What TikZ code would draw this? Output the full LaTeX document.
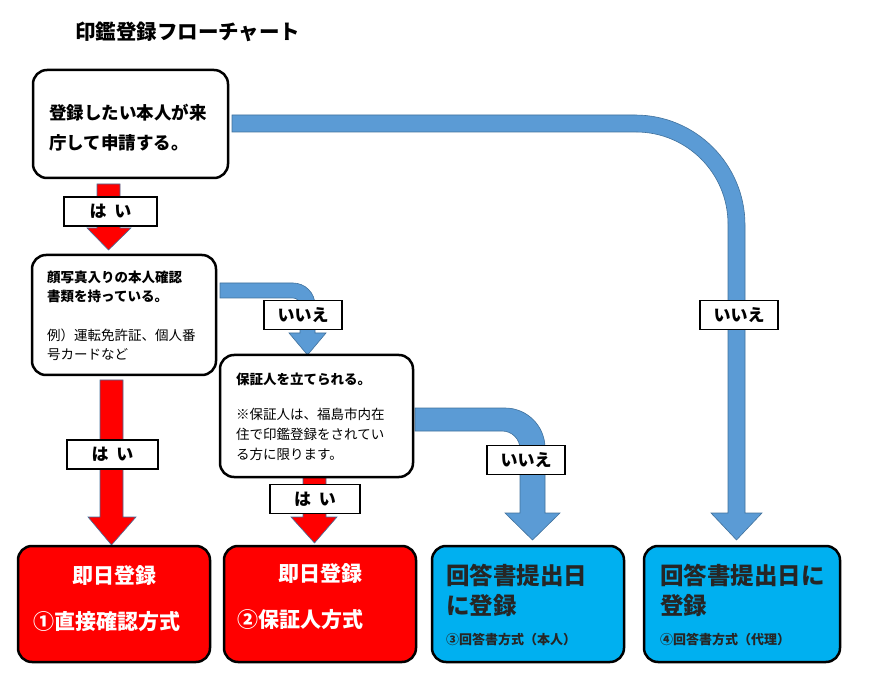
\documentclass[tikz,border=0pt]{standalone}
\usepackage{fontspec}
\setmainfont{Noto Sans CJK JP}
\definecolor{ab}{HTML}{5B9BD5}
\definecolor{abd}{HTML}{41719C}
\definecolor{cy}{HTML}{00B0F0}
\begin{document}
\begin{tikzpicture}[x=1pt,y=-1pt,
  box/.style={draw=black,line width=2.5pt,rounded corners=14pt,fill=white},
  rbox/.style={draw=black,line width=2.5pt,rounded corners=14pt,fill=red},
  cbox/.style={draw=black,line width=2.5pt,rounded corners=14pt,fill=cy},
  rarr/.style={fill=red,draw=abd,line width=0.6pt},
  barr/.style={fill=ab,draw=abd,line width=0.6pt},
  lab/.style={draw=black,line width=1.2pt,fill=white,font=\bfseries\fontsize{17}{17}\selectfont,inner sep=0pt,minimum height=29pt},
  t/.style={anchor=west,align=left,inner sep=0pt}]
\useasboundingbox (0,0) rectangle (870,684);
\node[t,font=\bfseries\fontsize{20.5}{20}\selectfont] (title) at (75,32) {印鑑登録フローチャート};
% arrows
\draw[rarr] (97,184) -- (120,184) -- (120,228) -- (131,228) -- (108.5,250) -- (87,228) -- (97,228) -- cycle;
\draw[rarr] (100,380) -- (123,380) -- (123,517) -- (136,517) -- (111.5,545) -- (88,517) -- (100,517) -- cycle;
\draw[rarr] (303,477) -- (326,477) -- (326,517) -- (337,517) -- (314.5,543) -- (291,517) -- (303,517) -- cycle;
\draw[barr] (220,283) [rounded corners=22pt] -- (315,283) [sharp corners] -- (315,333) -- (326,333) -- (307.5,355) -- (289,333) -- (300,333) [rounded corners=7pt] -- (300,298) [sharp corners] -- (220,298) -- cycle;
\draw[barr] (415,408) [rounded corners=40pt] -- (545,408) [sharp corners] -- (545,513) -- (560,513) -- (532.5,540) -- (505,513) -- (520,513) [rounded corners=18pt] -- (520,431) [sharp corners] -- (415,431) -- cycle;
\draw[barr] (232,115) [rounded corners=110pt] -- (745,115) [sharp corners] -- (745,513) -- (762,513) -- (736.5,540) -- (711,513) -- (728,513) [rounded corners=92pt] -- (728,132) [sharp corners] -- (232,132) -- cycle;
% labels
\node[lab,minimum width=93pt] (h1) at (110.5,211.5) {は\ \ い};
\node[lab,minimum width=91pt] (h2) at (112.5,454.5) {は\ \ い};
\node[lab,minimum width=90pt] (h3) at (315,499) {は\ \ い};
\node[lab,minimum width=78pt] (n1) at (303,315) {いいえ};
\node[lab,minimum width=78pt] (n2) at (526,460) {いいえ};
\node[lab,minimum width=78pt] (n3) at (739,315) {いいえ};
% boxes
\draw[box] (33,70) rectangle (228,178);
\node[t,font=\bfseries\fontsize{17.5}{30}\selectfont] (b1) at (49,128) {登録したい本人が来\\庁して申請する。};
\draw[box] (32,255) rectangle (216,375);
\node[t,font=\bfseries\fontsize{13.5}{19}\selectfont] (b2) at (47,286.5) {顔写真入りの本人確認\\書類を持っている。};
\node[t,font=\fontsize{13.5}{19}\selectfont] (b2b) at (47,344.5) {例）運転免許証、個人番\\号カードなど};
\draw[box] (220,355) rectangle (413,477);
\node[t,font=\bfseries\fontsize{13.5}{19}\selectfont] (b3) at (236,379) {保証人を立てられる。};
\node[t,font=\fontsize{13.5}{20}\selectfont] (b3b) at (236,434) {※保証人は、福島市内在\\住で印鑑登録をされてい\\る方に限ります。};
\draw[rbox] (18,546) rectangle (210,662);
\draw[rbox] (224,546) rectangle (416,662);
\draw[cbox] (432,546) rectangle (624,662);
\draw[cbox] (644,546) rectangle (840,662);
\node[font=\bfseries\fontsize{21}{21}\selectfont,text=white] (r1) at (114,576) {即日登録};
\node[t,font=\bfseries\fontsize{21}{21}\selectfont,text=white] (r1b) at (33,622) {①直接確認方式};
\node[font=\bfseries\fontsize{21}{21}\selectfont,text=white] (r2) at (320,574) {即日登録};
\node[t,font=\bfseries\fontsize{21}{21}\selectfont,text=white] (r2b) at (237,620) {②保証人方式};
\node[t,font=\bfseries\fontsize{23.5}{30}\selectfont,text=black!85] (c1) at (446,590) {回答書提出日\\に登録};
\node[t,font=\bfseries\fontsize{13}{13}\selectfont,text=black!85] (c1b) at (446,640) {③回答書方式（本人）};
\node[t,font=\bfseries\fontsize{23.5}{30}\selectfont,text=black!85] (c2) at (660,590) {回答書提出日に\\登録};
\node[t,font=\bfseries\fontsize{13}{13}\selectfont,text=black!85] (c2b) at (660,640) {④回答書方式（代理）};
\end{tikzpicture}
\end{document}
